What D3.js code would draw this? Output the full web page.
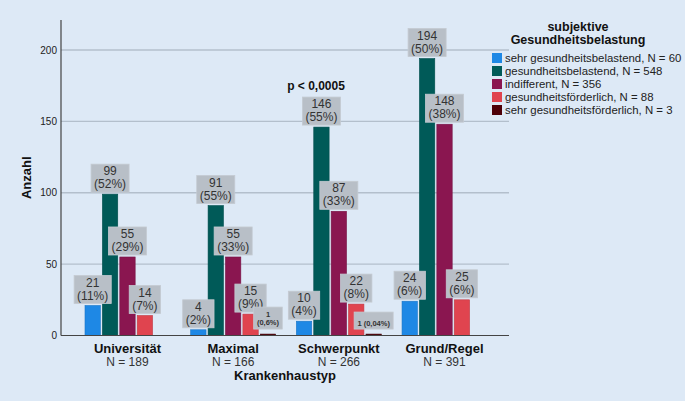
<!DOCTYPE html>
<html><head><meta charset="utf-8">
<script src="https://cdn.jsdelivr.net/npm/d3@7"></script>
<style>body{margin:0;background:#dde9f6;} svg{display:block;font-family:"Liberation Sans",Arial,sans-serif;}</style>
</head><body><svg width="685" height="401"></svg>
<script>
const categories = ["Universität", "Maximal", "Schwerpunkt", "Grund/Regel"];
const categoryN = ["N = 189", "N = 166", "N = 266", "N = 391"];
const seriesNames = ["sehr gesundheitsbelastend, N = 60", "gesundheitsbelastend, N = 548", "indifferent, N = 356", "gesundheitsförderlich, N = 88", "sehr gesundheitsförderlich, N = 3"];
const seriesColors = ["#1e88e5", "#005a58", "#8a1650", "#e0444f", "#4d0008"];
const sehrBelastend = [21, 4, 10, 24];
const belastend = [99, 91, 146, 194];
const indifferent = [55, 55, 87, 148];
const foerderlich = [14, 15, 22, 25];
const sehrFoerderlich = [0, 1, 1, 0];
const pctSehrBelastend = ["(11%)", "(2%)", "(4%)", "(6%)"];
const pctBelastend = ["(52%)", "(55%)", "(55%)", "(50%)"];
const pctIndifferent = ["(29%)", "(33%)", "(33%)", "(38%)"];
const pctFoerderlich = ["(7%)", "(9%)", "(8%)", "(6%)"];
const pctSehrFoerderlich = ["", "(0,6%)", "(0,04%)", ""];
const yTicks = [0, 50, 100, 150, 200];
const yMax = 221;

const seriesValues = [sehrBelastend, belastend, indifferent, foerderlich, sehrFoerderlich];
const seriesPct = [pctSehrBelastend, pctBelastend, pctIndifferent, pctFoerderlich, pctSehrFoerderlich];

const svg = d3.select("svg");
const pLeft = 61, pRight = 509, pTop = 20, pBottom = 335.5;

const y = d3.scaleLinear().domain([0, yMax]).range([pBottom, pTop]);
const x0 = d3.scaleBand().domain(categories).range([85, 487]).paddingInner(0.196);
const x1 = d3.scaleBand().domain(d3.range(5)).range([0, x0.bandwidth()]).paddingInner(0.118);

// gridlines
svg.append("g").selectAll("line").data(yTicks.filter(t => t > 0)).join("line")
  .attr("x1", pLeft).attr("x2", pRight)
  .attr("y1", d => y(d)).attr("y2", d => y(d))
  .attr("stroke", "#b3bfcc").attr("stroke-width", 1.3);

// y axis
const yAxis = d3.axisLeft(y).tickValues(yTicks).tickSize(0).tickPadding(4);
const yg = svg.append("g").attr("transform", `translate(${pLeft},0)`).call(yAxis);
yg.select(".domain").remove();
yg.selectAll("text").attr("font-size", 10).attr("fill", "#222").attr("font-family", "Liberation Sans, Arial, sans-serif");
svg.append("line").attr("x1", pLeft).attr("x2", pLeft).attr("y1", pTop).attr("y2", pBottom).attr("stroke", "#444").attr("stroke-width", 1.2);

// bars
const data = [];
categories.forEach((c, ci) => {
  seriesValues.forEach((arr, si) => {
    data.push({ c, ci, si, v: arr[ci], p: seriesPct[si][ci] });
  });
});
const bars = data.filter(d => d.v > 0);
svg.append("g").selectAll("rect").data(bars).join("rect")
  .attr("x", d => x0(d.c) + x1(d.si))
  .attr("width", x1.bandwidth())
  .attr("y", d => y(d.v))
  .attr("height", d => y(0) - y(d.v))
  .attr("fill", d => seriesColors[d.si])
  .attr("stroke", d => d3.color(seriesColors[d.si]).darker(0.4))
  .attr("stroke-width", 0.6);

// x axis line
svg.append("line").attr("x1", pLeft).attr("x2", pRight).attr("y1", pBottom).attr("y2", pBottom).attr("stroke", "#444").attr("stroke-width", 1.2);

// labels
const lg = svg.append("g");
bars.forEach(d => {
  const cx = x0(d.c) + x1(d.si) + x1.bandwidth() / 2;
  const barTop = y(d.v);
  const small = d.v <= 1;
  const g = lg.append("g");
  const rect = g.append("rect").attr("fill", "#b8bfc7").attr("stroke", "#c4cad1").attr("stroke-width", 0.8);
  const t = g.append("text").attr("text-anchor", "middle").attr("fill", "#333");
  let w, h;
  if (small) {
    const oneLine = d.p.length > 6;
    t.attr("font-size", 7.5).attr("font-weight", "bold").attr("fill", "#333");
    if (oneLine) {
      t.append("tspan").attr("x", cx).attr("y", barTop - 8).text(d.v + " " + d.p);
      h = 17;
    } else {
      t.append("tspan").attr("x", cx).attr("y", barTop - 17).text(d.v);
      t.append("tspan").attr("x", cx).attr("y", barTop - 9).text(d.p);
      h = 22;
    }
    w = t.node().getBBox().width + 6;
    rect.attr("x", cx - w / 2).attr("width", w).attr("y", barTop - 5 - h).attr("height", h);
  } else {
    t.attr("font-size", 12);
    t.append("tspan").attr("x", cx).attr("y", barTop - 19).text(d.v);
    t.append("tspan").attr("x", cx).attr("y", barTop - 6).text(d.p);
    w = t.node().getBBox().width + 6;
    h = 28;
    rect.attr("x", cx - w / 2).attr("width", w).attr("y", barTop - 2 - h).attr("height", h);
  }
});

// category labels
const cg = svg.append("g");
categories.forEach((c, i) => {
  const cx = x0(c) + x0.bandwidth() / 2;
  cg.append("text").attr("x", cx).attr("y", 353).attr("text-anchor", "middle")
    .attr("font-size", 13).attr("font-weight", "bold").attr("fill", "#111").text(c);
  cg.append("text").attr("x", cx).attr("y", 366).attr("text-anchor", "middle")
    .attr("font-size", 12).attr("fill", "#333").text(categoryN[i]);
});
svg.append("text").attr("x", (pLeft + pRight) / 2).attr("y", 380).attr("text-anchor", "middle")
  .attr("font-size", 13).attr("font-weight", "bold").attr("fill", "#111").text("Krankenhaustyp");
svg.append("text").attr("transform", `translate(31,${(pTop + pBottom) / 2}) rotate(-90)`).attr("text-anchor", "middle")
  .attr("font-size", 13).attr("font-weight", "bold").attr("fill", "#111").text("Anzahl");

svg.append("text").attr("x", 316).attr("y", 90).attr("text-anchor", "middle")
  .attr("font-size", 12).attr("font-weight", "bold").attr("fill", "#111").text("p < 0,0005");

// legend
const leg = svg.append("g");
leg.append("text").attr("x", 578).attr("y", 31).attr("text-anchor", "middle").attr("font-size", 12.5).attr("font-weight", "bold").attr("fill", "#111").text("subjektive");
leg.append("text").attr("x", 578).attr("y", 44).attr("text-anchor", "middle").attr("font-size", 12.5).attr("font-weight", "bold").attr("fill", "#111").text("Gesundheitsbelastung");
seriesNames.forEach((s, i) => {
  const yy = 53 + i * 13;
  leg.append("rect").attr("x", 492).attr("y", yy).attr("width", 10).attr("height", 10).attr("fill", seriesColors[i]);
  leg.append("text").attr("x", 505).attr("y", yy + 9).attr("font-size", 11.4).attr("fill", "#222").text(s);
});
</script></body></html>
